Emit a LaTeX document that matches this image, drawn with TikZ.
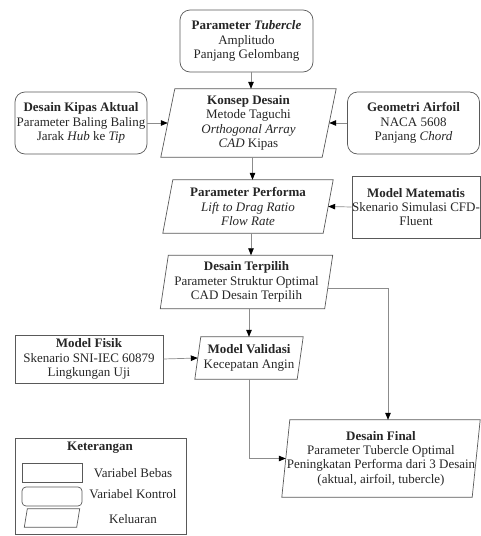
\documentclass[tikz,border=0pt]{standalone}
\usepackage{fontspec}
\setmainfont{Liberation Serif}
\usetikzlibrary{arrows.meta,calc}
\tikzset{
  every node/.style={font=\fontsize{13}{14.4}\selectfont, align=center, text=black!85, inner sep=0pt},
  ctrlbox/.style={draw=black!65, line width=0.7pt, rounded corners=10pt},
  freebox/.style={draw=black!65, line width=0.7pt},
  outbox/.style={},
  frame/.style={draw=black!65, line width=0.7pt},
  conn/.style={draw=black!45, line width=0.7pt, -{Triangle[length=7pt,width=5.5pt,color=black]}},
}
\newcommand\paraframe[2]{\draw[frame] ([xshift=#2pt]#1.north west) -- ([xshift=#2pt]#1.north east) -- ([xshift=-#2pt]#1.south east) -- ([xshift=-#2pt]#1.south west) -- cycle;}
\begin{document}
\begin{tikzpicture}[x=1pt,y=-1pt]
\useasboundingbox (0,0) rectangle (481,536);
% nodes
\node[ctrlbox, minimum width=133, minimum height=62] (tub) at (246.5,41) {\textbf{Parameter \textit{Tubercle}}\\Amplitudo\\Panjang Gelombang};
\node[ctrlbox, minimum width=132, minimum height=62] (akt) at (81,123) {\textbf{Desain Kipas Aktual}\\Parameter Baling Baling\\Jarak \textit{Hub} ke \textit{Tip}};
\node[ctrlbox, minimum width=132, minimum height=62] (air) at (413.5,123) {\textbf{Geometri Airfoil}\\NACA 5608\\Panjang \textit{Chord}};
\node[outbox, minimum width=161, minimum height=68] (kon) at (248.5,123) {\textbf{Konsep Desain}\\Metode Taguchi\\\textit{Orthogonal Array}\\\textit{CAD} Kipas};
\paraframe{kon}{7}
\node[outbox, minimum width=160, minimum height=53] (perf) at (248,206.5) {\textbf{Parameter Performa}\\\textit{Lift to Drag Ratio}\\\textit{Flow Rate}};
\paraframe{perf}{5}
\node[freebox, minimum width=128, minimum height=62] (mat) at (416,207) {\textbf{Model Matematis}\\Skenario Simulasi CFD-\\Fluent};
\node[outbox, minimum width=164, minimum height=53] (pil) at (246.5,282) {\textbf{Desain Terpilih}\\Parameter Struktur Optimal\\CAD Desain Terpilih};
\paraframe{pil}{4}
\node[outbox, minimum width=102, minimum height=42] (val) at (249,358) {\textbf{Model Validasi}\\Kecepatan Angin};
\paraframe{val}{3}
\node[freebox, minimum width=148, minimum height=48] (fis) at (89,359) {\textbf{Model Fisik}\\Skenario SNI-IEC 60879\\Lingkungan Uji};
\node[outbox, minimum width=190, minimum height=77] (fin) at (381,458.5) {\textbf{Desain Final}\\Parameter Tubercle Optimal\\Peningkatan Performa dari 3 Desain\\(aktual, airfoil, tubercle)};
\paraframe{fin}{4}
% connectors
\draw[conn] ([xshift=4.5pt]tub.south) -- ([xshift=4.5pt]tub.south |- kon.north);
\draw[conn] (akt.east) -- (kon.west);
\draw[conn] (air.west) -- (kon.east);
\draw[conn] ([xshift=4pt]kon.south) -- ([xshift=4pt]kon.south |- perf.north);
\draw[conn] (mat.west) -- (perf.east);
\draw[conn] ([xshift=3pt]perf.south) -- ([xshift=3pt]perf.south |- pil.north);
\draw[conn] ([xshift=2.5pt]pil.south) -- ([xshift=2.5pt]pil.south |- val.north);
\draw[conn] (fis.east) -- (val.west);
\draw[conn] ($(pil.east)+(-1,6)$) -| ($(fin.north)+(7,0)$);
\draw[conn] (val.south) |- (fin.west);
% legend
\node[freebox, minimum width=171, minimum height=96] (leg) at (100.5,486) {};
\node (legt) at (100,448) {\textbf{Keterangan}};
\node[freebox, minimum width=60, minimum height=19] (lb) at (52,472.5) {};
\node[ctrlbox, rounded corners=4pt, minimum width=60, minimum height=19] (lk) at (52,496.5) {};
\node[outbox, minimum width=52, minimum height=18] (lo) at (52,518) {};
\paraframe{lo}{1.5}
\node (lbt) at (133,473) {Variabel Bebas};
\node (lkt) at (133,494) {Variabel Kontrol};
\node (lot) at (133,519) {Keluaran};
\end{tikzpicture}
\end{document}
